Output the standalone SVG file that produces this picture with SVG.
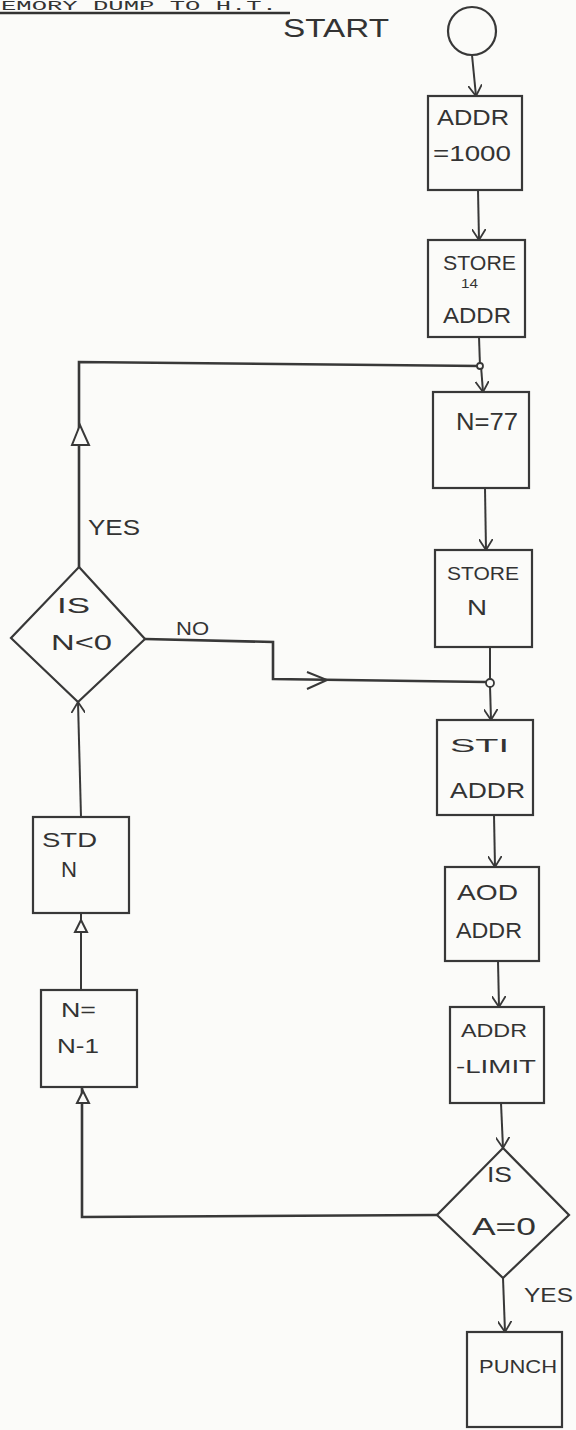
<svg xmlns="http://www.w3.org/2000/svg" width="576" height="1430" viewBox="0 0 576 1430">
<defs>
<style>
.box{fill:none;stroke:#383838;stroke-width:2.2}
.ln{fill:none;stroke:#383838;stroke-width:2}
.thick{fill:none;stroke:#383838;stroke-width:2.6}
.tri{fill:#fbfbf9;stroke:#383838;stroke-width:2}
.t{font-family:"Liberation Sans",Arial,sans-serif;fill:#333;}
.hd{font-family:"Liberation Mono","Courier New",monospace;fill:#333;font-size:13px}
</style>
<marker id="chev" viewBox="0 0 12 14" refX="11" refY="7" markerWidth="12" markerHeight="14" markerUnits="userSpaceOnUse" orient="auto">
<path d="M0,0 L11,7 L0,14" fill="none" stroke="#383838" stroke-width="1.8"/>
</marker>
</defs>
<rect x="0" y="0" width="576" height="1430" fill="#fbfbf9"/>

<g id="header">
<text class="hd" x="1" y="10" textLength="276" lengthAdjust="spacingAndGlyphs">EMORY DUMP TO H.T.</text>
<line x1="0" y1="13" x2="290" y2="13" stroke="#333" stroke-width="2.5"/>
<text class="t" x="283" y="37" font-size="26" textLength="106" lengthAdjust="spacingAndGlyphs">START</text>
</g>

<g id="connectors">
<line class="ln" x1="472" y1="55" x2="476" y2="96" marker-end="url(#chev)"/>
<line class="ln" x1="478" y1="190" x2="479" y2="240" marker-end="url(#chev)"/>
<line class="ln" x1="479" y1="337" x2="480" y2="366"/>
<line class="ln" x1="481" y1="366" x2="483" y2="392" marker-end="url(#chev)"/>
<path class="thick" d="M79,567 L79,362 L480,366"/>
<polygon class="tri" points="80,425 72,445 89,445"/>
<line class="ln" x1="485" y1="488" x2="486" y2="550" marker-end="url(#chev)"/>
<line class="ln" x1="490" y1="647" x2="490" y2="682"/>
<line class="ln" x1="490" y1="686" x2="491" y2="720" marker-end="url(#chev)"/>
<path class="thick" d="M145,639 L273,642 L273,679 L486,682"/>
<polyline class="ln" points="307,672 327,680 307,689"/>
<line class="ln" x1="494" y1="815" x2="495" y2="867" marker-end="url(#chev)"/>
<line class="ln" x1="498" y1="961" x2="499" y2="1007" marker-end="url(#chev)"/>
<line class="ln" x1="501" y1="1103" x2="503" y2="1148" marker-end="url(#chev)"/>
<line class="ln" x1="503" y1="1278" x2="505" y2="1332" marker-end="url(#chev)"/>
<path class="thick" d="M437,1215 L82,1217 L82,1087"/>
<polygon class="tri" points="83,1091 77,1103 89,1103"/>
<line class="ln" x1="81" y1="990" x2="81" y2="913"/>
<polygon class="tri" points="81,920 75,932 87,932"/>
<line class="ln" x1="81" y1="817" x2="78" y2="702" marker-end="url(#chev)"/>
<circle cx="480" cy="366" r="3" fill="#fbfbf9" stroke="#383838" stroke-width="1.8"/>
<circle cx="490" cy="683" r="4" fill="#fbfbf9" stroke="#383838" stroke-width="1.8"/>
</g>

<g id="start">
<circle class="box" cx="472" cy="31" r="24"/>
</g>

<g id="addr1000">
<rect class="box" x="428" y="96" width="94" height="94"/>
<text class="t" x="437" y="125" font-size="22" textLength="72" lengthAdjust="spacingAndGlyphs">ADDR</text>
<text class="t" x="433" y="161" font-size="22" textLength="78" lengthAdjust="spacingAndGlyphs">=1000</text>
</g>

<g id="store14">
<rect class="box" x="428" y="240" width="97" height="97"/>
<text class="t" x="443" y="270" font-size="20" textLength="73" lengthAdjust="spacingAndGlyphs">STORE</text>
<text class="t" x="461" y="288" font-size="13" textLength="17" lengthAdjust="spacingAndGlyphs">14</text>
<text class="t" x="443" y="323" font-size="22" textLength="68" lengthAdjust="spacingAndGlyphs">ADDR</text>
</g>

<g id="n77">
<rect class="box" x="433" y="392" width="96" height="96"/>
<text class="t" x="456" y="430" font-size="24" textLength="62" lengthAdjust="spacingAndGlyphs">N=77</text>
</g>

<g id="storeN">
<rect class="box" x="435" y="550" width="97" height="97"/>
<text class="t" x="447" y="580" font-size="18" textLength="72" lengthAdjust="spacingAndGlyphs">STORE</text>
<text class="t" x="467" y="615" font-size="22" textLength="20" lengthAdjust="spacingAndGlyphs">N</text>
</g>

<g id="isNlt0">
<polygon class="box" points="79,567 145,639 78,702 11,638"/>
<text class="t" x="57" y="613" font-size="22" textLength="33" lengthAdjust="spacingAndGlyphs">IS</text>
<text class="t" x="51" y="650" font-size="22" textLength="61" lengthAdjust="spacingAndGlyphs">N&lt;0</text>
</g>

<g id="labels">
<text class="t" x="88" y="535" font-size="22" textLength="52" lengthAdjust="spacingAndGlyphs">YES</text>
<text class="t" x="176" y="635" font-size="18" textLength="33" lengthAdjust="spacingAndGlyphs">NO</text>
<text class="t" x="524" y="1302" font-size="20" textLength="49" lengthAdjust="spacingAndGlyphs">YES</text>
</g>

<g id="stiAddr">
<rect class="box" x="437" y="720" width="96" height="95"/>
<text class="t" x="450" y="752" font-size="18" textLength="59" lengthAdjust="spacingAndGlyphs">STI</text>
<text class="t" x="450" y="798" font-size="22" textLength="75" lengthAdjust="spacingAndGlyphs">ADDR</text>
</g>

<g id="aodAddr">
<rect class="box" x="445" y="867" width="94" height="94"/>
<text class="t" x="457" y="900" font-size="22" textLength="61" lengthAdjust="spacingAndGlyphs">AOD</text>
<text class="t" x="456" y="938" font-size="22" textLength="66" lengthAdjust="spacingAndGlyphs">ADDR</text>
</g>

<g id="addrLimit">
<rect class="box" x="450" y="1007" width="94" height="96"/>
<text class="t" x="461" y="1037" font-size="18" textLength="66" lengthAdjust="spacingAndGlyphs">ADDR</text>
<text class="t" x="456" y="1073" font-size="18" textLength="80" lengthAdjust="spacingAndGlyphs">-LIMIT</text>
</g>

<g id="isA0">
<polygon class="box" points="503,1148 569,1215 503,1278 437,1215"/>
<text class="t" x="487" y="1182" font-size="22" textLength="25" lengthAdjust="spacingAndGlyphs">IS</text>
<text class="t" x="472" y="1235" font-size="24" textLength="64" lengthAdjust="spacingAndGlyphs">A=0</text>
</g>

<g id="punch">
<rect class="box" x="467" y="1332" width="95" height="95"/>
<text class="t" x="479" y="1373" font-size="19" textLength="78" lengthAdjust="spacingAndGlyphs">PUNCH</text>
</g>

<g id="stdN">
<rect class="box" x="33" y="817" width="96" height="96"/>
<text class="t" x="42" y="847" font-size="20" textLength="55" lengthAdjust="spacingAndGlyphs">STD</text>
<text class="t" x="61" y="877" font-size="22" textLength="16" lengthAdjust="spacingAndGlyphs">N</text>
</g>

<g id="nMinus1">
<rect class="box" x="41" y="990" width="96" height="97"/>
<text class="t" x="61" y="1017" font-size="20" textLength="35" lengthAdjust="spacingAndGlyphs">N=</text>
<text class="t" x="57" y="1053" font-size="20" textLength="42" lengthAdjust="spacingAndGlyphs">N-1</text>
</g>
</svg>
